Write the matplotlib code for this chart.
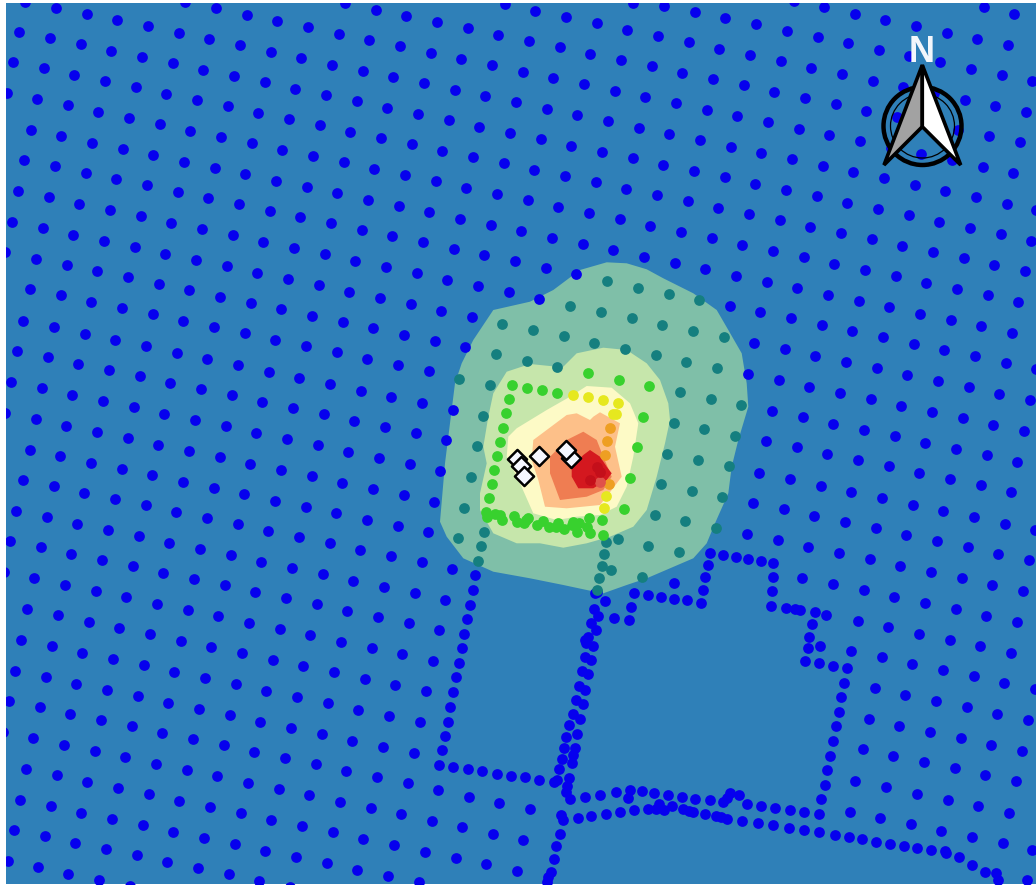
import matplotlib
matplotlib.use('Agg')
import matplotlib.pyplot as plt
from matplotlib.patches import Polygon, Circle

# regular grid of receptors, one row per line (image pixels)
field_rows_x = [
    [984, 1014],
    [794, 824, 855, 885, 916, 947, 977, 1008],
    [633, 664, 695, 725, 756, 787, 818, 848, 879, 909, 940, 971, 1002, 1032],
    [505, 535, 566, 597, 627, 658, 689, 719, 750, 781, 811, 842, 873, 903, 934, 965, 995, 1026],
    [345, 376, 406, 437, 468, 498, 529, 560, 590, 621, 652, 682, 713, 744, 774, 805, 836, 866, 897, 928, 958, 989, 1020],
    [185, 216, 247, 277, 308, 339, 369, 400, 431, 461, 492, 523, 553, 584, 615, 645, 676, 707, 737, 768, 799, 829, 860, 891, 921, 952, 983, 1013],
    [25, 56, 87, 117, 148, 179, 209, 240, 271, 301, 332, 363, 393, 424, 455, 485, 516, 547, 577, 608, 639, 669, 700, 731, 761, 792, 823, 853, 884, 915, 945, 976, 1007, 1036],
    [19, 50, 81, 111, 142, 173, 203, 234, 265, 295, 326, 357, 387, 418, 449, 479, 510, 541, 571, 602, 633, 663, 694, 725, 755, 786, 817, 847, 878, 909, 939, 970, 1001, 1031],
    [13, 44, 74, 105, 136, 166, 197, 228, 258, 289, 320, 350, 381, 412, 442, 473, 504, 534, 565, 596, 626, 657, 688, 718, 749, 780, 810, 841, 872, 902, 933, 964, 994, 1025],
    [7, 37, 68, 98, 129, 160, 190, 221, 252, 282, 313, 344, 374, 405, 436, 466, 497, 528, 558, 589, 620, 650, 681, 712, 742, 773, 804, 834, 865, 896, 926, 957, 988, 1018],
    [31, 61, 92, 123, 153, 184, 215, 245, 276, 307, 337, 368, 399, 429, 460, 491, 521, 552, 583, 613, 644, 675, 705, 736, 767, 797, 828, 859, 889, 920, 951, 981, 1012],
    [24, 55, 86, 116, 147, 178, 208, 239, 270, 300, 331, 362, 392, 423, 454, 484, 515, 546, 576, 730, 760, 791, 822, 852, 883, 914, 944, 975, 1006, 1036],
    [18, 49, 79, 110, 141, 171, 202, 233, 263, 294, 325, 355, 386, 417, 447, 478, 509, 539, 754, 785, 815, 846, 877, 907, 938, 969, 999, 1030],
    [12, 43, 73, 104, 135, 165, 196, 227, 257, 288, 319, 349, 380, 411, 441, 472, 748, 779, 809, 840, 871, 901, 932, 963, 993, 1024],
    [5, 36, 67, 97, 128, 159, 189, 220, 251, 281, 312, 343, 373, 404, 435, 465, 772, 803, 833, 864, 895, 925, 956, 987, 1017],
    [30, 61, 91, 122, 153, 183, 214, 245, 275, 306, 337, 367, 398, 429, 766, 797, 827, 858, 889, 919, 950, 981, 1011],
    [23, 54, 85, 115, 146, 177, 207, 238, 269, 299, 330, 361, 391, 422, 453, 759, 790, 821, 851, 882, 913, 943, 974, 1005, 1035],
    [17, 48, 78, 109, 140, 170, 201, 232, 262, 293, 324, 354, 385, 416, 446, 753, 784, 814, 845, 876, 906, 937, 968, 998, 1029],
    [11, 42, 72, 103, 134, 164, 195, 226, 256, 287, 318, 348, 379, 410, 440, 747, 778, 808, 839, 870, 900, 931, 962, 992, 1023],
    [5, 36, 66, 97, 128, 158, 189, 220, 250, 281, 312, 342, 373, 404, 434, 802, 833, 864, 894, 925, 956, 986, 1017],
    [30, 60, 91, 122, 152, 183, 214, 244, 275, 306, 336, 367, 398, 428, 674, 858, 888, 919, 950, 980, 1011],
    [23, 54, 84, 115, 146, 176, 207, 238, 268, 299, 330, 360, 391, 422, 452, 851, 882, 912, 943, 974, 1004, 1035],
    [16, 47, 77, 108, 139, 169, 200, 231, 261, 292, 323, 353, 384, 415, 445, 875, 905, 936, 967, 997, 1028],
    [10, 41, 71, 102, 133, 163, 194, 225, 255, 286, 317, 347, 378, 409, 439, 869, 899, 930, 961, 991, 1022],
    [4, 34, 65, 96, 126, 157, 188, 218, 249, 280, 310, 341, 372, 402, 433, 863, 893, 924, 955, 985, 1016],
    [27, 58, 89, 119, 150, 181, 211, 242, 273, 303, 334, 365, 395, 426, 855, 886, 917, 948, 978, 1009],
    [21, 52, 82, 113, 144, 174, 205, 236, 266, 297, 328, 358, 389, 420, 850, 880, 911, 941, 972, 1003, 1032],
    [15, 46, 76, 107, 138, 168, 199, 230, 260, 291, 322, 352, 383, 414, 1027],
    [9, 40, 70, 101, 132, 162, 193, 224, 254, 285, 316, 346, 377, 408, 438, 469, 499, 530],
    [3, 33, 64, 95, 125, 156, 187, 217, 248, 279, 309, 340, 371, 401, 432, 462, 493, 523],
    [26, 57, 87, 118, 149, 179, 210, 241, 271, 302, 333, 363, 394, 425, 456, 486, 517],
    [20, 51, 81, 112, 143, 173, 204, 235, 265, 296, 327, 357, 388, 419],
    [14, 45, 75, 106, 137, 167, 198, 229, 259, 290],
    [8, 38, 68, 99, 130],
]
field_rows_y = [
    [7, 14],
    [1, 7, 14, 20, 26, 33, 39, 45],
    [3, 6, 12, 18, 24, 31, 37, 43, 50, 56, 62, 69, 75, 81],
    [4, 11, 17, 23, 30, 36, 42, 49, 55, 61, 68, 74, 81, 87, 93, 100, 106, 112],
    [3, 10, 16, 22, 28, 35, 41, 47, 54, 60, 66, 73, 79, 85, 92, 98, 104, 111, 117, 123, 130, 136, 142],
    [2, 8, 15, 21, 27, 34, 40, 46, 53, 59, 65, 72, 78, 84, 91, 97, 103, 110, 116, 122, 129, 135, 141, 148, 154, 160, 167, 173],
    [2, 8, 14, 20, 26, 33, 39, 45, 52, 58, 65, 71, 77, 83, 90, 96, 102, 109, 115, 121, 128, 134, 140, 147, 153, 159, 166, 172, 178, 185, 191, 197, 204, 210],
    [32, 38, 44, 51, 57, 63, 70, 76, 82, 89, 95, 101, 108, 114, 120, 127, 133, 139, 146, 152, 158, 165, 171, 177, 184, 190, 196, 203, 209, 215, 222, 228, 234, 241],
    [62, 68, 75, 81, 87, 94, 100, 106, 113, 119, 125, 132, 138, 144, 151, 157, 163, 170, 176, 182, 189, 195, 201, 208, 214, 220, 227, 233, 239, 246, 252, 258, 265, 271],
    [93, 99, 105, 112, 118, 124, 131, 137, 143, 150, 156, 162, 169, 175, 181, 188, 194, 200, 207, 213, 219, 226, 232, 238, 245, 251, 257, 264, 270, 276, 283, 289, 295, 302],
    [130, 136, 143, 149, 155, 162, 168, 174, 181, 187, 193, 200, 206, 212, 219, 225, 231, 238, 244, 250, 257, 263, 269, 276, 282, 288, 295, 301, 307, 314, 320, 326, 333],
    [160, 166, 173, 179, 185, 192, 198, 204, 211, 217, 223, 230, 236, 242, 249, 255, 261, 268, 274, 306, 312, 318, 325, 331, 337, 344, 350, 356, 363, 369],
    [191, 197, 204, 210, 216, 223, 229, 235, 242, 248, 254, 261, 267, 273, 280, 286, 292, 299, 343, 349, 356, 362, 368, 375, 381, 387, 394, 400],
    [222, 228, 235, 241, 247, 254, 260, 266, 273, 279, 285, 292, 298, 304, 311, 317, 374, 380, 387, 393, 399, 406, 412, 418, 425, 431],
    [252, 259, 265, 271, 277, 284, 290, 297, 303, 309, 316, 322, 328, 335, 341, 347, 411, 417, 424, 430, 436, 443, 449, 455, 462],
    [289, 295, 302, 308, 314, 321, 327, 333, 340, 346, 352, 359, 365, 371, 441, 447, 454, 460, 466, 473, 479, 485, 492],
    [321, 327, 334, 340, 346, 353, 359, 365, 372, 378, 384, 391, 397, 403, 410, 473, 479, 486, 492, 498, 505, 511, 517, 524, 530],
    [351, 357, 364, 370, 376, 383, 389, 395, 402, 408, 414, 421, 427, 433, 440, 503, 509, 516, 522, 528, 535, 541, 547, 554, 560],
    [382, 388, 395, 401, 407, 414, 420, 426, 433, 439, 445, 452, 458, 464, 471, 534, 540, 547, 553, 559, 566, 572, 578, 585, 591],
    [413, 419, 426, 432, 438, 445, 451, 457, 464, 470, 476, 483, 489, 495, 502, 578, 584, 590, 597, 603, 609, 616, 622],
    [450, 456, 463, 469, 475, 482, 488, 494, 501, 507, 513, 520, 526, 532, 583, 621, 627, 634, 640, 646, 653],
    [480, 486, 493, 499, 505, 512, 518, 524, 531, 537, 543, 550, 556, 562, 569, 651, 657, 664, 670, 676, 683, 689],
    [511, 517, 524, 530, 536, 543, 549, 555, 562, 568, 574, 581, 587, 593, 600, 688, 695, 701, 707, 714, 720],
    [541, 547, 554, 560, 566, 573, 579, 585, 592, 598, 604, 611, 617, 623, 630, 719, 726, 732, 738, 745, 751],
    [572, 578, 585, 591, 597, 604, 610, 616, 623, 629, 635, 642, 648, 654, 661, 749, 756, 762, 768, 775, 781],
    [609, 615, 622, 628, 634, 641, 647, 653, 660, 666, 672, 679, 685, 691, 781, 787, 794, 800, 806, 813],
    [640, 646, 653, 659, 665, 672, 678, 684, 691, 697, 703, 710, 716, 722, 812, 818, 824, 831, 837, 843, 850],
    [671, 677, 684, 690, 696, 703, 709, 715, 722, 728, 734, 741, 747, 753, 880],
    [701, 707, 714, 720, 726, 733, 739, 745, 752, 758, 764, 771, 777, 783, 790, 797, 803, 809],
    [732, 738, 745, 751, 757, 764, 770, 776, 783, 789, 795, 802, 808, 814, 821, 827, 834, 840],
    [769, 775, 782, 788, 794, 801, 807, 813, 820, 826, 832, 839, 845, 852, 858, 864, 871],
    [800, 806, 813, 819, 825, 832, 838, 844, 851, 857, 863, 870, 876, 882],
    [830, 836, 843, 849, 855, 862, 868, 874, 881, 887],
    [861, 867, 874, 880, 886],
]

# receptors strung along the fence lines / roads
road_x = [475.4, 472.7, 469.9, 467.1, 464.4, 461.6, 458.9, 455.8, 453, 450.3, 447.5, 444.8, 442, 439.3,
          453.4, 467.5, 482.1, 496.6, 510.8, 524.9, 539.4, 553.6, 556.7,
          594.8, 596.8, 594, 598.4, 590.9, 595.6, 588.2, 585, 585.8, 592.9, 584.6, 590.9, 581.9, 588.2, 578.7, 585.4,
          576.4, 582.7, 572.5, 579.9, 568.9, 577.2, 566.2, 574.8, 563.8, 573.2, 561.5, 572.1, 558.7, 568.9, 566.6, 566.2, 570.1,
          604.7, 613.7, 628.6, 631.4, 634.1, 647.5, 660.9, 674.2, 687.2, 700.5, 702.9, 705.3, 707.6, 709.6,
          722.6, 735.5, 748.1, 760.7, 773.2, 772.5, 771.7, 770.9, 785.8, 795.2, 799.6, 814.5, 826.3, 812.1, 809.4, 819.6,
          807.8, 805.1, 818.8, 833, 847.1, 844.4, 841.2, 838.5, 835.7, 832.6, 830.2, 827.1, 824.7, 821.2, 818.8,
          585.4, 600.3, 615.7, 630.2, 627.9, 642.4, 654.2, 667.5, 682.1, 695.4, 709.6, 722.6, 727.3, 729.6, 738.7,
          746.5, 761, 775.2, 789.7, 804.3,
          560.7, 563.4, 577.6, 591.3, 605.9, 620, 633.7, 647.9, 656.1, 658.9, 663.6, 671.5, 682.5, 689.2, 693.1,
          704.5, 715.5, 721, 726.9, 742.2, 757.9, 773.2, 788.6, 804.3, 819.2, 834.9, 848.7, 862.4, 875.8, 890.3,
          903.7, 917.4, 931.2, 945.3, 945.7, 958.7, 971.7, 984.6, 996.4, 997.6,
          559.5, 555.6, 554, 550.8, 547.7, 546.9]
road_y = [575.3, 590, 604.7, 619.3, 634, 648.3, 663, 677.3, 692.3, 706.7, 721.7, 736, 750.3, 765.3,
          767, 769, 771.3, 773.7, 775.7, 777.3, 779.7, 781.7, 780,
          593.3, 591.7, 609, 616, 623.3, 630.3, 637.3, 640, 643.3, 645.7, 657, 659.7, 671.3, 674.3, 685.7, 689.7,
          700, 704.3, 713.7, 719, 725, 733.7, 736.7, 747.7, 748.3, 754.7, 758.7, 763.3, 769, 778, 785.7, 792.3, 799.3,
          601, 618, 620.3, 606.7, 592.7, 594.7, 596.7, 598.7, 600.3, 602.7, 590, 577.3, 565, 552.7,
          554.7, 557, 559, 560.7, 562.7, 577, 591.3, 605.7, 608, 608.7, 610, 612.3, 614.7, 624.3, 636.7, 645.7,
          648.3, 661, 663.3, 666, 668, 682.7, 697.3, 712, 726.3, 741, 755.7, 770.3, 785, 799.3, 814,
          797, 794.7, 792.3, 789.7, 798.3, 791.3, 793, 795, 797, 798.7, 800.3, 802.3, 798.3, 792.7, 795,
          804.3, 806, 808, 810, 812,
          815.3, 820.3, 818, 816, 814, 812.3, 810.3, 808.7, 809.3, 804.3, 810, 806, 809, 810.7, 811.7,
          814, 816.3, 817, 818.7, 821.3, 823, 825.3, 827.7, 830.3, 832.3, 835, 837, 839.3, 841.7, 843.7,
          845.7, 848, 850.3, 850.7, 852.7, 857.3, 864.7, 872.3, 873.3, 880,
          833.7, 846, 859.3, 871.7, 877.3, 881.7]

# points coloured by concentration class
teal_x = [607, 638, 669, 699, 570, 601, 632, 662, 693, 724, 502, 533, 564, 594, 625, 656, 686, 717,
          496, 527, 557, 459, 490, 680, 711, 741, 483, 674, 704, 735, 477, 667, 698, 729, 471, 661, 692, 722,
          464, 655, 685, 716, 458, 648, 679, 642, 618, 484, 481, 478, 606, 604, 602, 599, 597, 611]
teal_y = [281, 288, 294, 300, 306, 312, 318, 325, 331, 337, 324, 330, 336, 343, 349, 355, 362, 368,
          354, 361, 367, 379, 385, 392, 399, 405, 416, 423, 429, 436, 446, 454, 460, 466, 477, 484, 491, 497,
          508, 515, 521, 528, 538, 546, 552, 577, 539, 532, 546, 561, 542, 554, 566, 578, 590, 570]
green_x = [588, 619, 649, 512, 527, 542, 557, 509, 506, 503, 500, 497, 494, 492, 489, 643, 637, 630, 624,
           486, 487, 495, 500, 502, 514, 517, 524, 526, 528, 537, 543, 549, 556, 558, 564, 572, 573, 579, 577, 587, 590, 589, 602, 603]
green_y = [373, 380, 386, 385, 388, 390, 393, 399, 413, 428, 442, 456, 470, 484, 498, 417, 447, 478, 509,
           512, 517, 514, 515, 520, 516, 522, 523, 520, 518, 525, 521, 527, 527, 523, 529, 525, 522, 523, 532, 527, 533, 518, 520, 535]
yellow_x = [573, 588, 603, 618, 613, 616, 606, 604]
yellow_y = [395, 397, 400, 403, 414, 414, 496, 508]
orange_x = [610, 607, 605, 609]
orange_y = [428, 441, 455, 484]
red_x = [597, 600, 590]
red_y = [467, 472, 480]
salmon_x = [600]
salmon_y = [482]

# sources
source_x = [571.3, 565.7, 517.3, 521, 524.3, 539.3]
source_y = [457.7, 449.7, 459, 465.7, 476, 456]

# filled contour bands, lowest first
band1 = [(606.7, 262.3), (626.7, 263.3), (646.7, 269.3), (663.3, 278.3), (693.3, 293.3), (716.7, 310), (728.3, 330),
         (741.7, 353.3), (746.7, 383.3), (748.3, 406.7), (738.3, 440), (731.7, 466.7), (728.3, 493.3), (715, 523.3),
         (706.7, 543.3), (693.3, 558.3), (670, 568.3), (646.7, 578.3), (626.7, 585), (603.3, 593.3), (586.7, 590),
         (563.3, 585), (530, 578.3), (493.3, 571.7), (463.3, 558.3), (446.7, 536.7), (440, 521.7), (445, 463.3),
         (450, 423.3), (455, 383.3), (461.7, 363.3), (473.3, 340), (493.3, 310), (530, 301.7), (553.3, 290), (580, 270)]
band2 = [(603.3, 347.7), (626.7, 350), (646.7, 363.3), (660, 380), (668.3, 403.3), (670, 420), (665, 443.3), (656.7, 476.7),
         (646.7, 510), (633.3, 526.7), (610, 536.7), (586.7, 543.3), (563.3, 547.7), (540, 543.3), (516.7, 543.3),
         (493.3, 533.3), (480, 510), (480, 493.3), (486.7, 463.3), (483.3, 446.7), (488.3, 416.7), (493.3, 393.3),
         (506.7, 371.7), (530, 364), (556.7, 366.7), (563.3, 366.7), (576.7, 353.3)]
band3 = [(586.7, 386), (611.7, 387.7), (630, 403.3), (638.3, 423.3), (633.3, 456.7), (626.7, 486.7), (616.7, 506.7), (600, 515),
         (576.7, 516.7), (556.7, 520), (533.3, 513.3), (520, 483.3), (506.7, 456.7), (508.3, 436.7), (516.7, 428.3),
         (546.7, 410), (570, 396.7)]
band4 = [(593.3, 416.7), (600, 412.3), (620, 423.3), (615, 446.7), (621.7, 476.7), (611.7, 490), (600, 505), (566.7, 508.3),
         (545, 506.7), (538.3, 480), (531.7, 460), (533.3, 440), (566.7, 415), (576.7, 413.3), (590, 420)]
band5 = [(583.3, 431.7), (596.7, 440), (603.3, 456.7), (611.7, 476.7), (603.3, 490), (586.7, 496.7), (560, 500), (550, 473.3),
         (550, 456.7), (566.7, 440)]
band6 = [(590, 450), (600, 456.7), (606.7, 466.7), (611.7, 473.3), (606.7, 480), (593.3, 488.3), (578.3, 488.3), (571.7, 476.7),
         (571.7, 466.7), (583.3, 455)]
bands = [band1, band2, band3, band4, band5, band6]
band_colors = ['#7fbfa8', '#c6e6ab', '#fdfac6', '#fdc089', '#ef7d52', '#d4181f']

fig = plt.figure(figsize=(10.36, 8.88), dpi=100)
ax = fig.add_axes([6 / 1036, 4 / 888, 1030 / 1036, 881 / 888])
ax.set_facecolor('#2f80b8')
ax.set_xlim(6, 1036)
ax.set_ylim(884, 3)
ax.set_xticks([])
ax.set_yticks([])
for s in ax.spines.values():
    s.set_visible(False)

for band, c in zip(bands, band_colors):
    ax.add_patch(Polygon(band, closed=True, facecolor=c, edgecolor='none', zorder=1))

size = 60
for xs, ys in zip(field_rows_x, field_rows_y):
    ax.scatter(xs, ys, s=size, color='#0600ee', linewidths=0, zorder=2)
ax.scatter(road_x, road_y, s=size, color='#0600ee', linewidths=0, zorder=2)
ax.scatter(teal_x, teal_y, s=size, color='#157f7f', linewidths=0, zorder=2)
ax.scatter(green_x, green_y, s=size, color='#38d12e', linewidths=0, zorder=2)
ax.scatter(yellow_x, yellow_y, s=size, color='#e6e81f', linewidths=0, zorder=2)
ax.scatter(orange_x, orange_y, s=size, color='#ee9f22', linewidths=0, zorder=2)
ax.scatter(salmon_x, salmon_y, s=size, color='#e0524a', linewidths=0, zorder=2)
ax.scatter(red_x, red_y, s=size, color='#c40f1a', linewidths=0, zorder=2)
ax.scatter(source_x, source_y, s=95, marker='D', facecolor='#f5f7ff', edgecolor='black', linewidths=1.8, zorder=3)

# north arrow
ax.add_patch(Circle((922.5, 126), 39, facecolor='none', edgecolor='black', linewidth=3.2, zorder=4))
ax.add_patch(Circle((922.5, 126), 32, facecolor='none', edgecolor='black', linewidth=0.9, zorder=4))
ax.add_patch(Polygon([(922.3, 65), (884, 165), (922.3, 126.7)], closed=True, facecolor='#a2a2a2',
                     edgecolor='black', linewidth=2.6, joinstyle='miter', zorder=5))
ax.add_patch(Polygon([(922.3, 65), (960.7, 165), (922.3, 126.7)], closed=True, facecolor='white',
                     edgecolor='black', linewidth=2.6, joinstyle='miter', zorder=5))
ax.text(922, 53, 'N', color='#f2f6fb', fontsize=26, fontweight='bold', family='Liberation Sans',
        ha='center', va='center', zorder=6)

fig.savefig('out.png', dpi=100)
